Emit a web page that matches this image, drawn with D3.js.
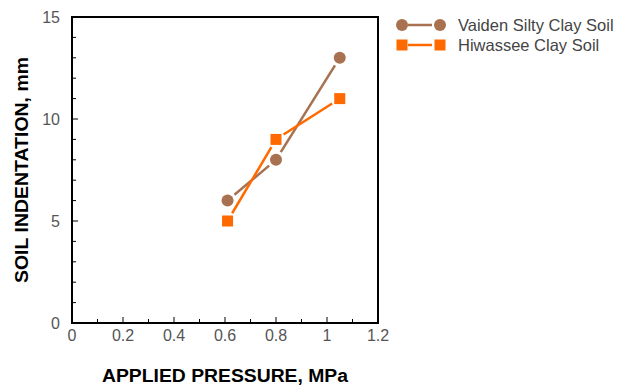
<!DOCTYPE html>
<html><head><meta charset="utf-8">
<script src="https://cdn.jsdelivr.net/npm/d3@7"></script>
<style>body{margin:0;background:#fff;}svg{display:block;font-family:Arial,"Liberation Sans",sans-serif;}</style>
</head><body><svg id="c" width="628" height="386"></svg>
<script>
const pressure = [0.61, 0.80, 1.05];
const vaiden = [6, 8, 13];
const hiwassee = [5, 9, 11];
const seriesNames = ["Vaiden Silty Clay Soil", "Hiwassee Clay Soil"];
const xTicks = [0, 0.2, 0.4, 0.6, 0.8, 1, 1.2];
const yTicks = [0, 5, 10, 15];
const xLabel = "APPLIED PRESSURE, MPa";
const yLabel = "SOIL INDENTATION, mm";

const svg = d3.select("#c");
const m = {l:72, r:378, t:17, b:323};
const x = d3.scaleLinear().domain([0,1.2]).range([m.l, m.r]);
const y = d3.scaleLinear().domain([0,15]).range([m.b, m.t]);

const series = [
  {name: seriesNames[0], vals: vaiden, color: "#A8714F", shape: "circle"},
  {name: seriesNames[1], vals: hiwassee, color: "#FF6A00", shape: "square"}
];

// minor ticks
const g = svg.append("g");
g.selectAll(".yt").data(d3.range(0,16,1)).enter().append("line")
  .attr("x1", m.l).attr("x2", d => m.l + (d%5===0?6:4)).attr("y1", d=>y(d)).attr("y2", d=>y(d))
  .attr("stroke","#000").attr("stroke-width",1);
g.selectAll(".xt").data(d3.range(0,13,1)).enter().append("line")
  .attr("y1", m.b).attr("y2", d => m.b - (d%2===0?6:4)).attr("x1", d=>x(d/10)).attr("x2", d=>x(d/10))
  .attr("stroke","#000").attr("stroke-width",1);

// frame
svg.append("rect").attr("x", m.l).attr("y", m.t).attr("width", m.r-m.l).attr("height", m.b-m.t)
  .attr("fill","none").attr("stroke","#000").attr("stroke-width",2);

// tick labels
svg.selectAll(".xl").data(xTicks).enter().append("text")
  .attr("x", d=>x(d)).attr("y", 341).attr("text-anchor","middle")
  .attr("font-size",16).attr("fill","#555").text(d=>d3.format("")(d));
svg.selectAll(".yl").data(yTicks).enter().append("text")
  .attr("x", 60).attr("y", d=>y(d)+6).attr("text-anchor","end")
  .attr("font-size",16).attr("fill","#555").text(d=>d);

// axis titles
svg.append("text").attr("x", 225).attr("y", 382).attr("text-anchor","middle")
  .attr("font-size",18).attr("font-weight","bold").attr("fill","#000")
  .attr("textLength",246).attr("lengthAdjust","spacingAndGlyphs").text(xLabel);
svg.append("text").attr("transform","translate(28,170) rotate(-90)").attr("text-anchor","middle")
  .attr("font-size",18).attr("font-weight","bold").attr("fill","#000")
  .attr("textLength",226).attr("lengthAdjust","spacingAndGlyphs").text(yLabel);

// lines with gaps at markers
const gap = 9;
series.forEach(s => {
  const pts = s.vals.map((v,i)=>[x(pressure[i]), y(v)]);
  for (let i=0;i<pts.length-1;i++){
    const [x0,y0]=pts[i],[x1,y1]=pts[i+1];
    const L=Math.hypot(x1-x0,y1-y0), ux=(x1-x0)/L, uy=(y1-y0)/L;
    svg.append("line").attr("x1",x0+ux*gap).attr("y1",y0+uy*gap)
      .attr("x2",x1-ux*gap).attr("y2",y1-uy*gap)
      .attr("stroke",s.color).attr("stroke-width",2.5);
  }
});
function marker(sel, s, cx, cy){
  if (s.shape==="circle") sel.append("circle").attr("cx",cx).attr("cy",cy).attr("r",6).attr("fill",s.color);
  else sel.append("rect").attr("x",cx-5.5).attr("y",cy-5.5).attr("width",11).attr("height",11).attr("fill",s.color);
}
series.forEach(s => {
  s.vals.forEach((v,i)=>marker(svg, s, x(pressure[i]), y(v)));
});

// legend
series.forEach((s,i) => {
  const ly = 25 + i*20;
  svg.append("line").attr("x1",408).attr("x2",432).attr("y1",ly).attr("y2",ly)
    .attr("stroke",s.color).attr("stroke-width",2.5);
  marker(svg, s, 402, ly);
  marker(svg, s, 440, ly);
  svg.append("text").attr("x",458).attr("y",ly+6).attr("font-size",16.5).attr("fill","#444").text(s.name);
});
</script></body></html>
